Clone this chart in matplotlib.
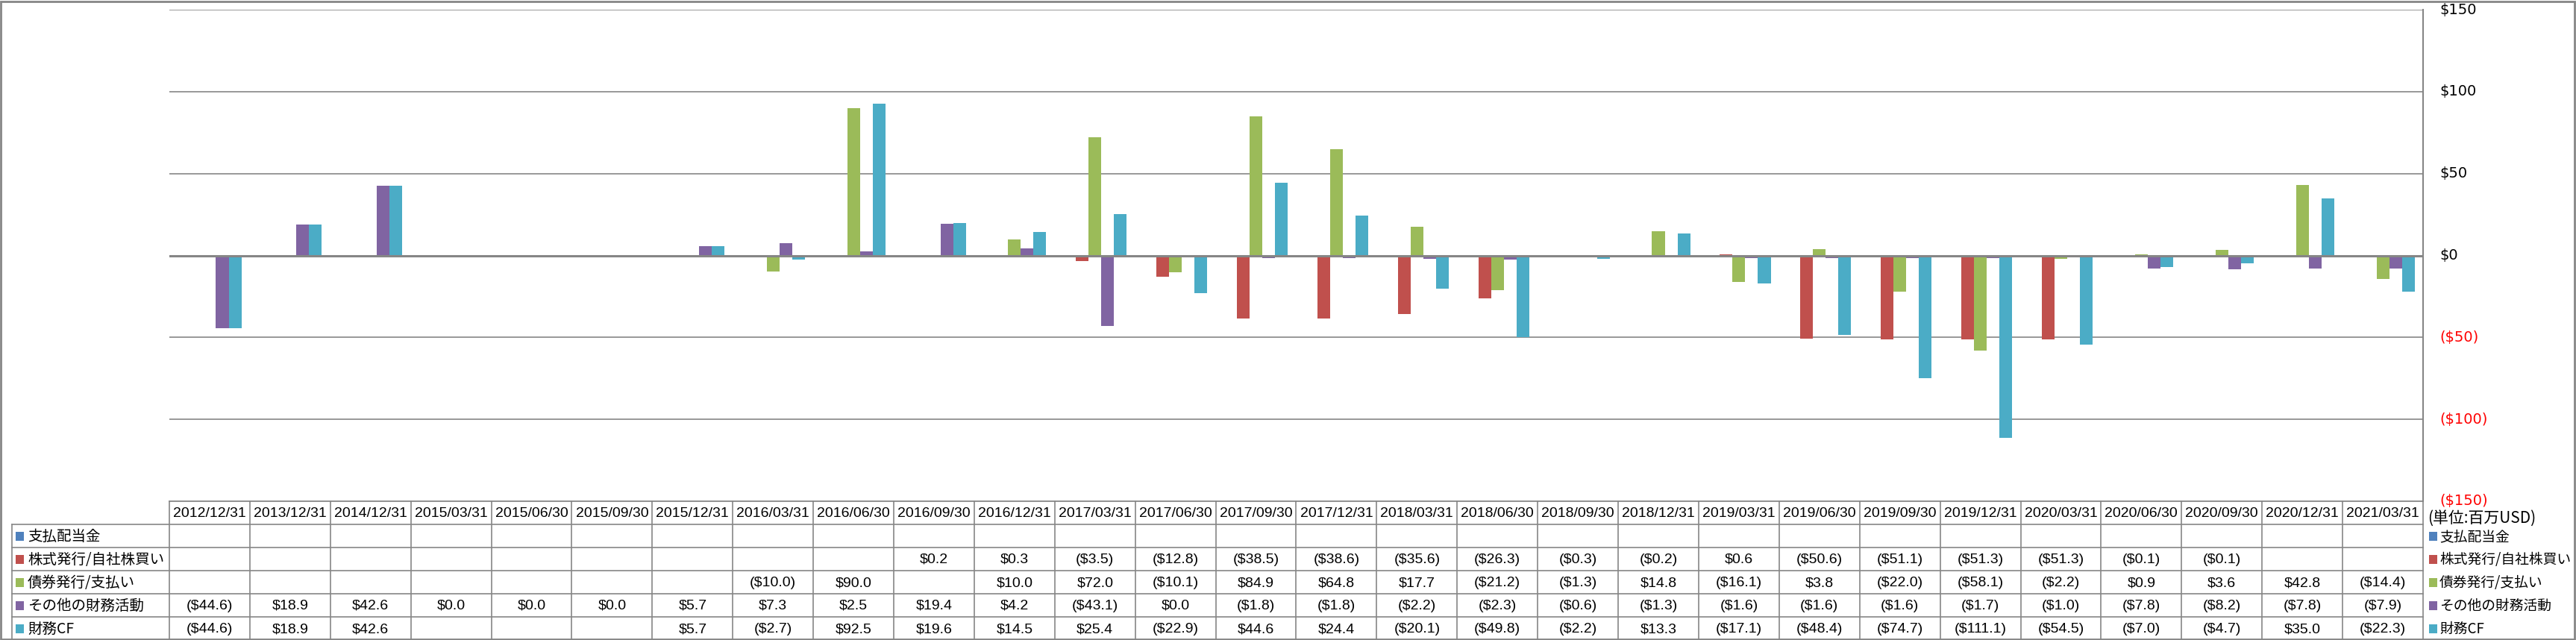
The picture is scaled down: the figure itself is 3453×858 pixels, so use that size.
import numpy as np
import matplotlib
matplotlib.use("Agg")
import matplotlib.pyplot as plt
from matplotlib.patches import Rectangle

dates = ["2012/12/31", "2013/12/31", "2014/12/31", "2015/03/31", "2015/06/30", "2015/09/30",
         "2015/12/31", "2016/03/31", "2016/06/30", "2016/09/30", "2016/12/31", "2017/03/31",
         "2017/06/30", "2017/09/30", "2017/12/31", "2018/03/31", "2018/06/30", "2018/09/30",
         "2018/12/31", "2019/03/31", "2019/06/30", "2019/09/30", "2019/12/31", "2020/03/31",
         "2020/06/30", "2020/09/30", "2020/12/31", "2021/03/31"]

series_names = ["支払配当金", "株式発行/自社株買い", "債券発行/支払い", "その他の財務活動", "財務CF"]
series_colors = ["#4F81BD", "#C0504D", "#9BBB59", "#8064A2", "#4BACC6"]

dividends = [None] * 28
stock = [None, None, None, None, None, None, None, None, None, 0.2, 0.3, -3.5, -12.8, -38.5,
         -38.6, -35.6, -26.3, -0.3, -0.2, 0.6, -50.6, -51.1, -51.3, -51.3, -0.1, -0.1, None, None]
bonds = [None, None, None, None, None, None, None, -10.0, 90.0, None, 10.0, 72.0, -10.1, 84.9,
         64.8, 17.7, -21.2, -1.3, 14.8, -16.1, 3.8, -22.0, -58.1, -2.2, 0.9, 3.6, 42.8, -14.4]
other = [-44.6, 18.9, 42.6, 0.0, 0.0, 0.0, 5.7, 7.3, 2.5, 19.4, 4.2, -43.1, 0.0, -1.8,
         -1.8, -2.2, -2.3, -0.6, -1.3, -1.6, -1.6, -1.6, -1.7, -1.0, -7.8, -8.2, -7.8, -7.9]
fin_cf = [-44.6, 18.9, 42.6, None, None, None, 5.7, -2.7, 92.5, 19.6, 14.5, 25.4, -22.9, 44.6,
          24.4, -20.1, -49.8, -2.2, 13.3, -17.1, -48.4, -74.7, -111.1, -54.5, -7.0, -4.7, 35.0, -22.3]

series = [dividends, stock, bonds, other, fin_cf]
yticks = [-150, -100, -50, 0, 50, 100, 150]
unit_label = "(単位:百万USD)"

W, H = 3453, 858
GRAY = "#868686"
TFONT = ["Liberation Sans", "Noto Sans CJK JP", "DejaVu Sans"]
JFONT = ["Noto Sans CJK JP", "DejaVu Sans"]

fig = plt.figure(figsize=(W / 100, H / 100), dpi=100)

# pixel layout
px_left, px_right = 227, 3248
px_top, px_bottom = 13, 672
row_h = 31
n = len(dates)

ax = fig.add_axes([px_left / W, 1 - px_bottom / H, (px_right - px_left) / W, (px_bottom - px_top) / H])
x = np.arange(n)
bw = 0.158
for i, (vals, col) in enumerate(zip(series, series_colors)):
    xs = [x[j] + (i - 2) * bw for j in range(n) if vals[j] is not None]
    ys = [vals[j] for j in range(n) if vals[j] is not None]
    ax.bar(xs, ys, width=bw, color=col, zorder=3, linewidth=0)

ax.set_xlim(-0.5, n - 0.5)
ax.set_ylim(-150, 150)
ax.set_yticks(yticks)
for yv in yticks:
    if yv == 0:
        ax.axhline(0, color=GRAY, lw=2.2, zorder=4)
    else:
        ax.axhline(yv, color=GRAY, lw=1.2, zorder=1)


def money(v):
    return "$%d" % v if v >= 0 else "($%d)" % (-v)


ax.yaxis.tick_right()
ax.set_yticklabels([money(v) for v in yticks], fontsize=14, family="DejaVu Sans")
for lab, v in zip(ax.get_yticklabels(), yticks):
    lab.set_color("red" if v < 0 else "black")
    lab.set_verticalalignment("center")
ax.tick_params(axis="y", length=0, pad=16)
ax.set_xticks([])
for s in ["top", "left", "bottom"]:
    ax.spines[s].set_visible(False)
ax.spines["right"].set_color(GRAY)
ax.spines["right"].set_linewidth(1.5)
ax.set_facecolor("none")

# overlay for table, legend, border
ov = fig.add_axes([0, 0, 1, 1], zorder=-1)
ov.set_xlim(0, W)
ov.set_ylim(H, 0)
ov.axis("off")

# outer border
ov.add_patch(Rectangle((1.5, 1.5), W - 3, H - 3, fill=False, ec=GRAY, lw=2))

col_w = (px_right - px_left) / n
label_left = 16
rows_top = px_bottom + row_h
# horizontal lines
ov.plot([px_left, px_right], [px_bottom, px_bottom], color=GRAY, lw=1.2)
for r in range(len(series_names)):
    yl = rows_top + r * row_h
    ov.plot([label_left, px_right], [yl, yl], color=GRAY, lw=1.2)
# vertical lines
ov.plot([label_left, label_left], [rows_top, H], color=GRAY, lw=1.2)
for c in range(n + 1):
    xl = px_left + c * col_w
    ov.plot([xl, xl], [px_bottom, H], color=GRAY, lw=1.2)

# header texts
for c, d in enumerate(dates):
    ov.text(px_left + (c + 0.5) * col_w, px_bottom + row_h / 2 + 1, d, ha="center", va="center",
            fontsize=14, family=TFONT)


def fmt(v):
    if v is None:
        return ""
    return "$%.1f" % v if v >= 0 else "($%.1f)" % (-v)


for r, (name, vals, col) in enumerate(zip(series_names, series, series_colors)):
    yc = rows_top + r * row_h + row_h / 2
    ov.add_patch(Rectangle((label_left + 5, yc - 6), 11, 12, color=col, lw=0))
    ov.text(label_left + 21, yc + 1, name, ha="left", va="center", fontsize=14, family=JFONT)
    for c in range(n):
        s = fmt(vals[c])
        if s:
            ov.text(px_left + (c + 0.5) * col_w, yc + 1, s, ha="center", va="center",
                    fontsize=14, family=TFONT)
    # right legend
    ov.add_patch(Rectangle((3256, yc - 6), 11, 12, color=col, lw=0))
    ov.text(3270, yc + 1, name, ha="left", va="center", fontsize=13.5, family=JFONT)

ov.text(3254, 695, unit_label, ha="left", va="center", fontsize=15, family=JFONT)

fig.savefig("out.png", dpi=100, facecolor="white")
